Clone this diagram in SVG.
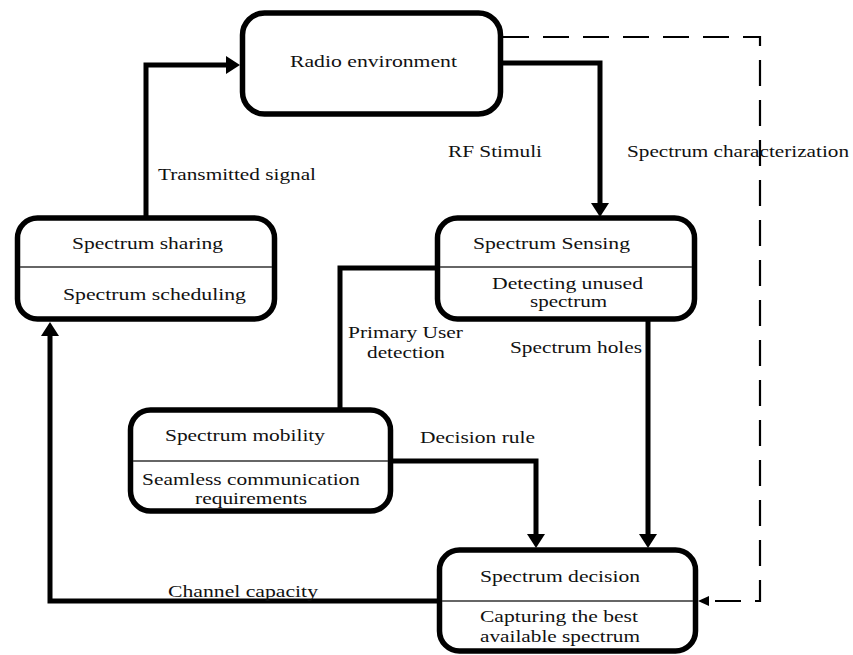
<svg xmlns="http://www.w3.org/2000/svg" width="853" height="655" viewBox="0 0 853 655">
  <style>
    .box { fill: #ffffff; stroke: #000000; stroke-width: 5.5; }
    .div { stroke: #333333; stroke-width: 1.6; fill: none; }
    .flow { fill: none; stroke: #000000; stroke-width: 5; stroke-linejoin: miter; }
    .dash { fill: none; stroke: #000000; stroke-width: 2.2; stroke-dasharray: 26 14; }
    text { font-family: "Liberation Serif", "DejaVu Serif", serif; font-size: 17px; fill: #111111; }
  </style>
  <defs>
    <marker id="arrow" markerUnits="userSpaceOnUse" markerWidth="16" markerHeight="18" refX="0" refY="9" orient="auto">
      <path d="M0,0 L14,9 L0,18 z" fill="#000000"/>
    </marker>
    <marker id="arrowSmall" markerUnits="userSpaceOnUse" markerWidth="12" markerHeight="10" refX="0" refY="5" orient="auto">
      <path d="M0,0 L11,5 L0,10 z" fill="#000000"/>
    </marker>
  </defs>

  <rect width="853" height="655" fill="#ffffff"/>

  <!-- connectors -->
  <g id="connectors">
    <path class="flow" d="M146,217 V65 H226" marker-end="url(#arrow)"/>
    <path class="flow" d="M503,63 H600 V203" marker-end="url(#arrow)"/>
    <path class="flow" d="M436,268 H340 V409"/>
    <path class="flow" d="M392,461 H536 V534" marker-end="url(#arrow)"/>
    <path class="flow" d="M648,320 V534" marker-end="url(#arrow)"/>
    <path class="flow" d="M438,601 H50 V336" marker-end="url(#arrow)"/>
    <path class="dash" d="M503,37 H760 V601 H709" marker-end="url(#arrowSmall)"/>
  </g>

  <!-- edge labels -->
  <g id="labels">
    <text x="158" y="180" textLength="158" lengthAdjust="spacingAndGlyphs">Transmitted signal</text>
    <text x="448" y="157" textLength="94" lengthAdjust="spacingAndGlyphs">RF Stimuli</text>
    <text x="627" y="157" textLength="222" lengthAdjust="spacingAndGlyphs">Spectrum characterization</text>
    <text x="348" y="338" textLength="115" lengthAdjust="spacingAndGlyphs">Primary User</text>
    <text x="367" y="358" textLength="78" lengthAdjust="spacingAndGlyphs">detection</text>
    <text x="510" y="353" textLength="132" lengthAdjust="spacingAndGlyphs">Spectrum holes</text>
    <text x="420" y="443" textLength="115" lengthAdjust="spacingAndGlyphs">Decision rule</text>
    <text x="168" y="597" textLength="150" lengthAdjust="spacingAndGlyphs">Channel capacity</text>
  </g>

  <!-- Radio environment -->
  <g id="radio-environment">
    <rect class="box" x="242.5" y="13" width="258" height="101" rx="22"/>
    <text x="290" y="67" textLength="167" lengthAdjust="spacingAndGlyphs">Radio environment</text>
  </g>

  <!-- Spectrum sharing -->
  <g id="spectrum-sharing">
    <rect class="box" x="17.5" y="218" width="257" height="101" rx="20"/>
    <line class="div" x1="20" y1="267" x2="272" y2="267"/>
    <text x="72" y="249" textLength="151" lengthAdjust="spacingAndGlyphs">Spectrum sharing</text>
    <text x="63" y="300" textLength="183" lengthAdjust="spacingAndGlyphs">Spectrum scheduling</text>
  </g>

  <!-- Spectrum Sensing -->
  <g id="spectrum-sensing">
    <rect class="box" x="437.5" y="218" width="257" height="101" rx="20"/>
    <line class="div" x1="440" y1="267" x2="692" y2="267"/>
    <text x="473" y="249" textLength="157" lengthAdjust="spacingAndGlyphs">Spectrum Sensing</text>
    <text x="492" y="289" textLength="151" lengthAdjust="spacingAndGlyphs">Detecting unused</text>
    <text x="530" y="307" textLength="77" lengthAdjust="spacingAndGlyphs">spectrum</text>
  </g>

  <!-- Spectrum mobility -->
  <g id="spectrum-mobility">
    <rect class="box" x="130.5" y="410" width="260" height="101" rx="20"/>
    <line class="div" x1="133" y1="461" x2="388" y2="461"/>
    <text x="165" y="441" textLength="160" lengthAdjust="spacingAndGlyphs">Spectrum mobility</text>
    <text x="142" y="485" textLength="218" lengthAdjust="spacingAndGlyphs">Seamless communication</text>
    <text x="195" y="504" textLength="112" lengthAdjust="spacingAndGlyphs">requirements</text>
  </g>

  <!-- Spectrum decision -->
  <g id="spectrum-decision">
    <rect class="box" x="439.5" y="550" width="256" height="101" rx="20"/>
    <line class="div" x1="442" y1="601" x2="693" y2="601"/>
    <text x="480" y="582" textLength="160" lengthAdjust="spacingAndGlyphs">Spectrum decision</text>
    <text x="480" y="622" textLength="158" lengthAdjust="spacingAndGlyphs">Capturing the best</text>
    <text x="480" y="642" textLength="160" lengthAdjust="spacingAndGlyphs">available spectrum</text>
  </g>
</svg>
